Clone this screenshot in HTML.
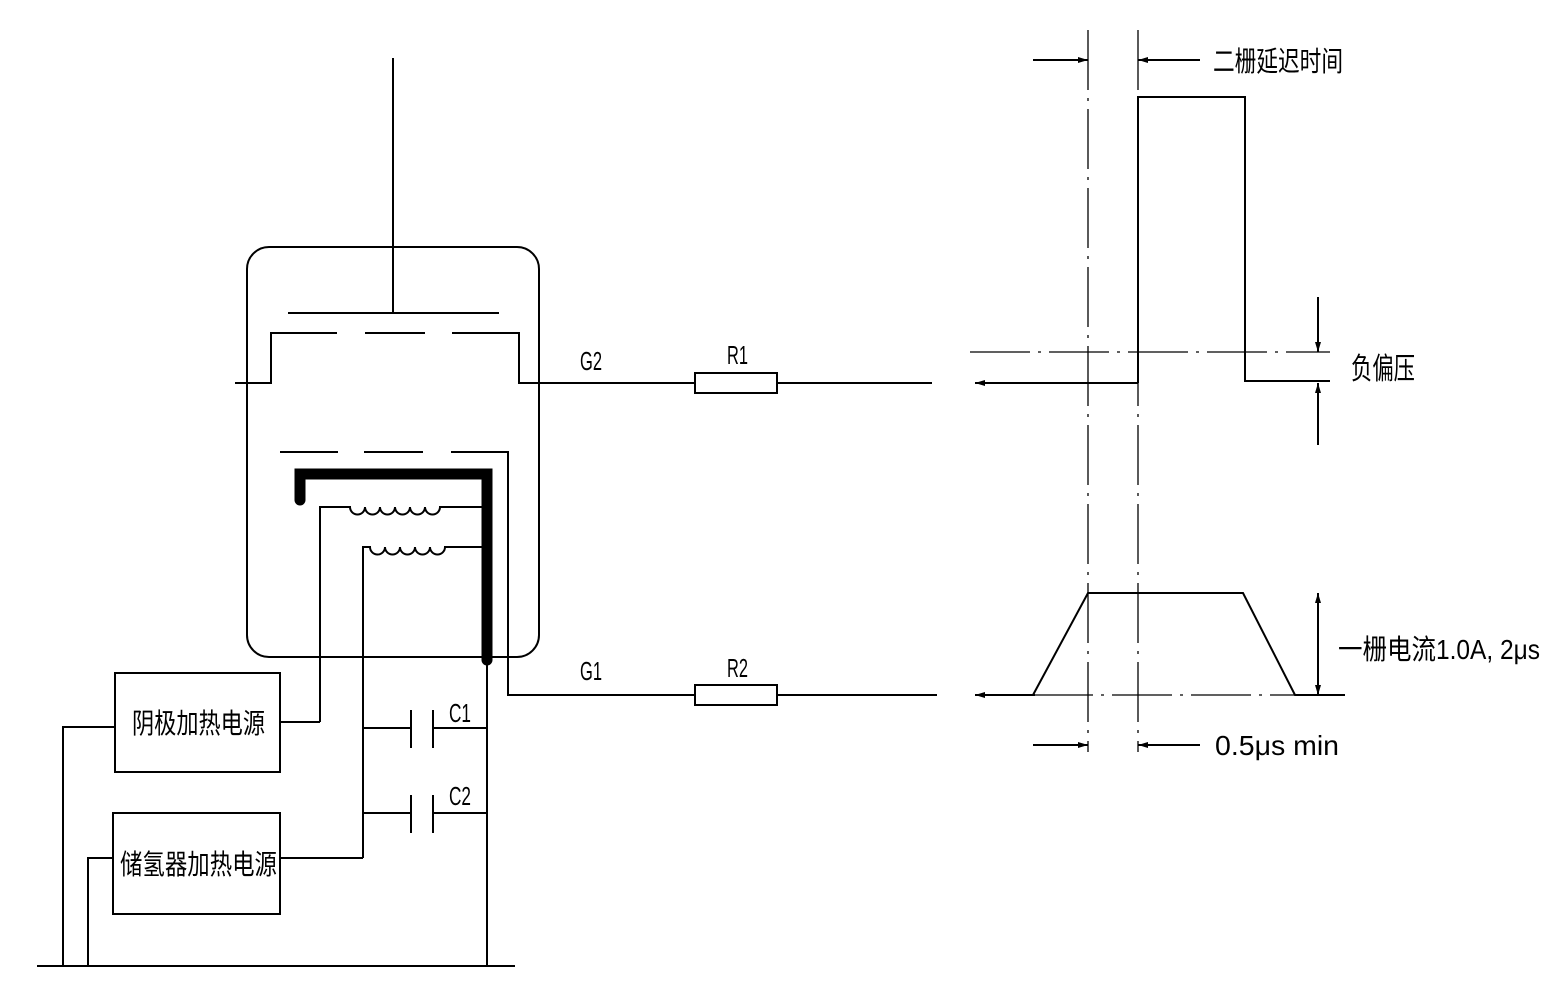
<!DOCTYPE html>
<html><head><meta charset="utf-8"><style>
html,body{margin:0;padding:0;background:#fff}
svg text{font-family:"Liberation Sans","Noto Sans CJK SC",sans-serif;fill:#000}
</style></head><body>
<svg width="1562" height="984" viewBox="0 0 1562 984" xmlns="http://www.w3.org/2000/svg">
<defs>
<marker id="a" viewBox="0 0 10 6" refX="10" refY="3" markerWidth="10" markerHeight="6" orient="auto" markerUnits="userSpaceOnUse"><path d="M0,0 L10,3 L0,6 z" fill="#000"/></marker>
</defs>
<g stroke="#000" stroke-width="2" fill="none">
<rect x="247" y="247" width="292" height="410" rx="22"/>
<line x1="393" y1="58" x2="393" y2="313"/>
<line x1="288" y1="313" x2="499" y2="313"/>
<path d="M235,383 H271 V333 H337 M365,333 H425 M452,333 H519 V383 H932"/>
<path d="M280,452 H338 M364,452 H423 M451,452 H508 V695 H937"/>
<rect x="695" y="373" width="82" height="20" fill="#fff"/>
<rect x="695" y="685" width="82" height="20" fill="#fff"/>
<path d="M300,500 V474 H487 V660" stroke-width="11" stroke-linecap="round" stroke-linejoin="miter"/>
<path d="M320,722 V507 H350 a7,7 0 0 0 15,0 a7,7 0 0 0 15,0 a7,7 0 0 0 15,0 a7,7 0 0 0 15,0 a7,7 0 0 0 15,0 a7,7 0 0 0 15,0 H483"/>
<path d="M363,858 V547 H370 a7,7 0 0 0 15,0 a7,7 0 0 0 15,0 a7,7 0 0 0 15,0 a7,7 0 0 0 15,0 a7,7 0 0 0 15,0 H483"/>
<path d="M280,722 H320"/>
<path d="M280,858 H363"/>
<rect x="115" y="673" width="165" height="99"/>
<rect x="113" y="813" width="167" height="101"/>
<path d="M115,727 H63 V966"/>
<path d="M113,858 H88 V966"/>
<line x1="37" y1="966" x2="515" y2="966"/>
<line x1="487" y1="660" x2="487" y2="966"/>
<path d="M363,728 H411 M433,728 H487 M363,813 H411 M433,813 H487"/>
<path d="M411,710 V748 M433,710 V748 M411,795 V833 M433,795 V833"/>
<g stroke-width="1.3" stroke-dasharray="60,8,3,8">
<line x1="1088" y1="30" x2="1088" y2="752"/>
<line x1="1138" y1="30" x2="1138" y2="752"/>
<line x1="970" y1="352" x2="1330" y2="352"/>
<line x1="1033" y1="695" x2="1300" y2="695"/>
</g>
<line x1="1033" y1="60" x2="1088" y2="60" marker-end="url(#a)"/>
<line x1="1200" y1="60" x2="1138" y2="60" marker-end="url(#a)"/>
<line x1="1033" y1="745" x2="1088" y2="745" marker-end="url(#a)"/>
<line x1="1200" y1="745" x2="1138" y2="745" marker-end="url(#a)"/>
<path d="M1138,383 V97 H1245 V381 H1330"/>
<line x1="1138" y1="383" x2="975" y2="383" marker-end="url(#a)"/>
<line x1="1318" y1="297" x2="1318" y2="352" marker-end="url(#a)"/>
<line x1="1318" y1="445" x2="1318" y2="383" marker-end="url(#a)"/>
<path d="M1345,695 H1295 L1243,593 H1088 L1033,695"/>
<line x1="1035" y1="695" x2="975" y2="695" marker-end="url(#a)"/>
<line x1="1318" y1="645" x2="1318" y2="593" marker-end="url(#a)"/>
<line x1="1318" y1="645" x2="1318" y2="695" marker-end="url(#a)"/>
</g>
<g font-size="26" lengthAdjust="spacingAndGlyphs">
<text x="580" y="370" textLength="22" lengthAdjust="spacingAndGlyphs">G2</text>
<text x="727" y="364" textLength="21" lengthAdjust="spacingAndGlyphs">R1</text>
<text x="580" y="680" textLength="22" lengthAdjust="spacingAndGlyphs">G1</text>
<text x="727" y="677" textLength="21" lengthAdjust="spacingAndGlyphs">R2</text>
<text x="449" y="722" textLength="22" lengthAdjust="spacingAndGlyphs">C1</text>
<text x="449" y="805" textLength="22" lengthAdjust="spacingAndGlyphs">C2</text>
<text x="132" y="733" font-size="28" textLength="133" lengthAdjust="spacingAndGlyphs">阴极加热电源</text>
<text x="120" y="874" font-size="28" textLength="157" lengthAdjust="spacingAndGlyphs">储氢器加热电源</text>
<text x="1213" y="71" font-size="28" textLength="130" lengthAdjust="spacingAndGlyphs">二栅延迟时间</text>
<text x="1351" y="379" font-size="30" textLength="64" lengthAdjust="spacingAndGlyphs">负偏压</text>
<text x="1338" y="659" font-size="28" textLength="202" lengthAdjust="spacingAndGlyphs">一栅电流1.0A, 2μs</text>
<text x="1215" y="755" font-size="28" textLength="124" lengthAdjust="spacingAndGlyphs">0.5μs  min</text>
</g>
</svg>
</body></html>
